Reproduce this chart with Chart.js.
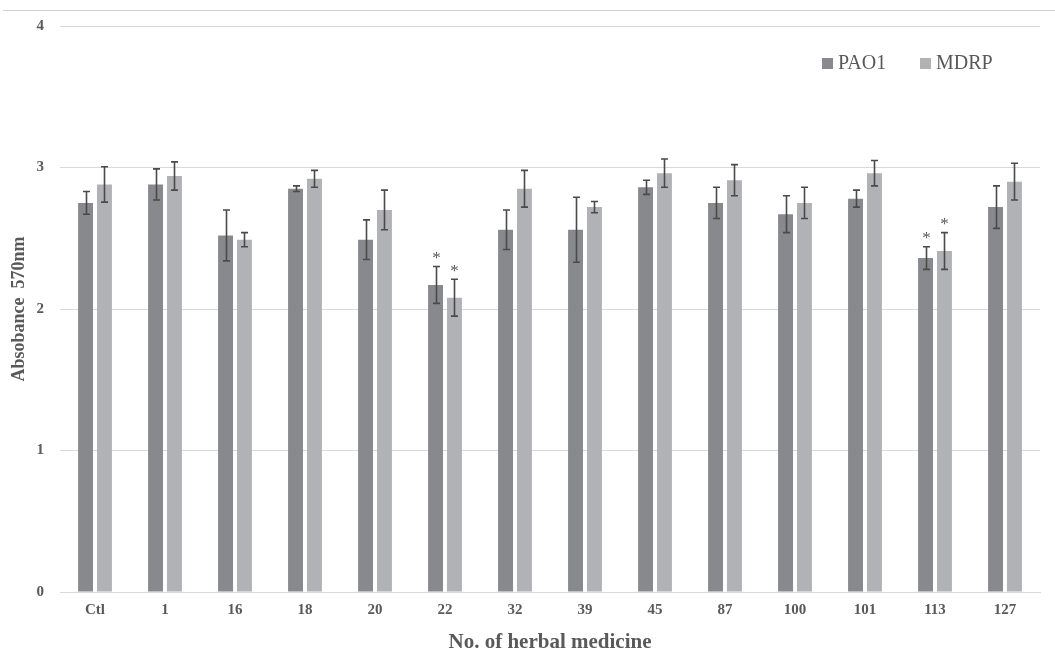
<!DOCTYPE html>
<html>
<head>
<meta charset="utf-8">
<script src="https://cdn.jsdelivr.net/npm/chart.js@4.4.0/dist/chart.umd.min.js"></script>
<style>
  html, body { margin: 0; padding: 0; background: #ffffff; }
  #wrap { width: 1055px; height: 666px; }
</style>
</head>
<body>
<div id="wrap"><canvas id="c" width="1055" height="666"></canvas></div>
<script>
const categories = ['Ctl', '1', '16', '18', '20', '22', '32', '39', '45', '87', '100', '101', '113', '127'];
const pao1 = [2.75, 2.88, 2.52, 2.85, 2.49, 2.17, 2.56, 2.56, 2.86, 2.75, 2.67, 2.78, 2.36, 2.72];
const pao1Err = [0.08, 0.11, 0.18, 0.02, 0.14, 0.13, 0.14, 0.23, 0.05, 0.11, 0.13, 0.06, 0.08, 0.15];
const mdrp = [2.88, 2.94, 2.49, 2.92, 2.70, 2.08, 2.85, 2.72, 2.96, 2.91, 2.75, 2.96, 2.41, 2.90];
const mdrpErr = [0.125, 0.10, 0.05, 0.06, 0.14, 0.13, 0.13, 0.04, 0.10, 0.11, 0.11, 0.09, 0.13, 0.13];
const pao1Sig = ['22', '113'];
const mdrpSig = ['22', '113'];
const yTicks = [0, 1, 2, 3, 4];

const textColor = '#595959';
const serif = '"Liberation Serif", "Times New Roman", serif';

const errors = [pao1Err, mdrpErr];
const sigs = [pao1Sig, mdrpSig];

const frameLine = {
  id: 'frameLine',
  beforeDraw(chart) {
    const ctx = chart.ctx;
    ctx.save();
    ctx.strokeStyle = '#d0d0d0';
    ctx.lineWidth = 1;
    ctx.beginPath();
    ctx.moveTo(3, 10.5);
    ctx.lineTo(1055, 10.5);
    ctx.stroke();
    ctx.restore();
  }
};

const errorBars = {
  id: 'errorBars',
  afterDatasetsDraw(chart) {
    const ctx = chart.ctx;
    const ys = chart.scales.y;
    ctx.save();
    chart.data.datasets.forEach((ds, di) => {
      const meta = chart.getDatasetMeta(di);
      meta.data.forEach((bar, j) => {
        const v = ds.data[j];
        const e = errors[di][j];
        const yt = ys.getPixelForValue(v + e);
        const yb = ys.getPixelForValue(v - e);
        const x = Math.round(bar.x) + 0.5;
        ctx.strokeStyle = '#4a4a4a';
        ctx.lineWidth = 1.6;
        ctx.beginPath();
        ctx.moveTo(x, yt); ctx.lineTo(x, yb);
        ctx.moveTo(x - 3.5, yt); ctx.lineTo(x + 3.5, yt);
        ctx.moveTo(x - 3.5, yb); ctx.lineTo(x + 3.5, yb);
        ctx.stroke();
        if (sigs[di].includes(categories[j])) {
          ctx.fillStyle = textColor;
          ctx.font = '17px ' + serif;
          ctx.textAlign = 'center';
          ctx.textBaseline = 'middle';
          ctx.fillText('*', x, yt - 8);
        }
      });
    });
    ctx.restore();
  }
};

const customLegend = {
  id: 'customLegend',
  afterDraw(chart) {
    const ctx = chart.ctx;
    ctx.save();
    ctx.font = '20px ' + serif;
    ctx.textBaseline = 'middle';
    ctx.textAlign = 'left';
    const positions = [822, 920];
    chart.data.datasets.forEach((ds, i) => {
      const x = positions[i];
      ctx.fillStyle = ds.backgroundColor;
      ctx.fillRect(x, 58, 11, 11);
      ctx.fillStyle = textColor;
      ctx.fillText(ds.label, x + 16, 64);
    });
    ctx.restore();
  }
};

new Chart(document.getElementById('c'), {
  type: 'bar',
  data: {
    labels: categories,
    datasets: [
      { label: 'PAO1', data: pao1, backgroundColor: '#88898d', borderWidth: 0,
        categoryPercentage: 0.54, barPercentage: 0.79 },
      { label: 'MDRP', data: mdrp, backgroundColor: '#b1b2b5', borderWidth: 0,
        categoryPercentage: 0.54, barPercentage: 0.79 }
    ]
  },
  options: {
    responsive: false,
    animation: false,
    devicePixelRatio: 1,
    layout: { padding: { top: 26, right: 15, left: 9, bottom: 11 } },
    plugins: {
      legend: { display: false },
      tooltip: { enabled: false }
    },
    scales: {
      x: {
        afterFit(scale) { scale.height = 63; },
        grid: { display: false, drawTicks: false },
        border: { display: true, color: '#d9d9d9', width: 1 },
        ticks: { color: textColor, font: { family: serif, size: 15, weight: 'bold' }, padding: 9 },
        title: { display: true, text: 'No. of herbal medicine', color: textColor,
                 font: { family: serif, size: 21, weight: 'bold' }, padding: { top: 0, bottom: 0 } }
      },
      y: {
        min: 0, max: 4,
        afterBuildTicks(scale) { scale.ticks = yTicks.map(v => ({ value: v })); },
        afterFit(scale) { scale.width = 51; },
        grid: { color: '#d9d9d9', lineWidth: 1, drawTicks: false },
        border: { display: false },
        ticks: { color: textColor, font: { family: serif, size: 15, weight: 'bold' }, padding: 16 },
        title: { display: true, text: 'Absobance  570nm', color: textColor,
                 font: { family: serif, size: 18, weight: 'bold' }, padding: { top: 0, bottom: 0 } }
      }
    }
  },
  plugins: [frameLine, errorBars, customLegend]
});
</script>
</body>
</html>
